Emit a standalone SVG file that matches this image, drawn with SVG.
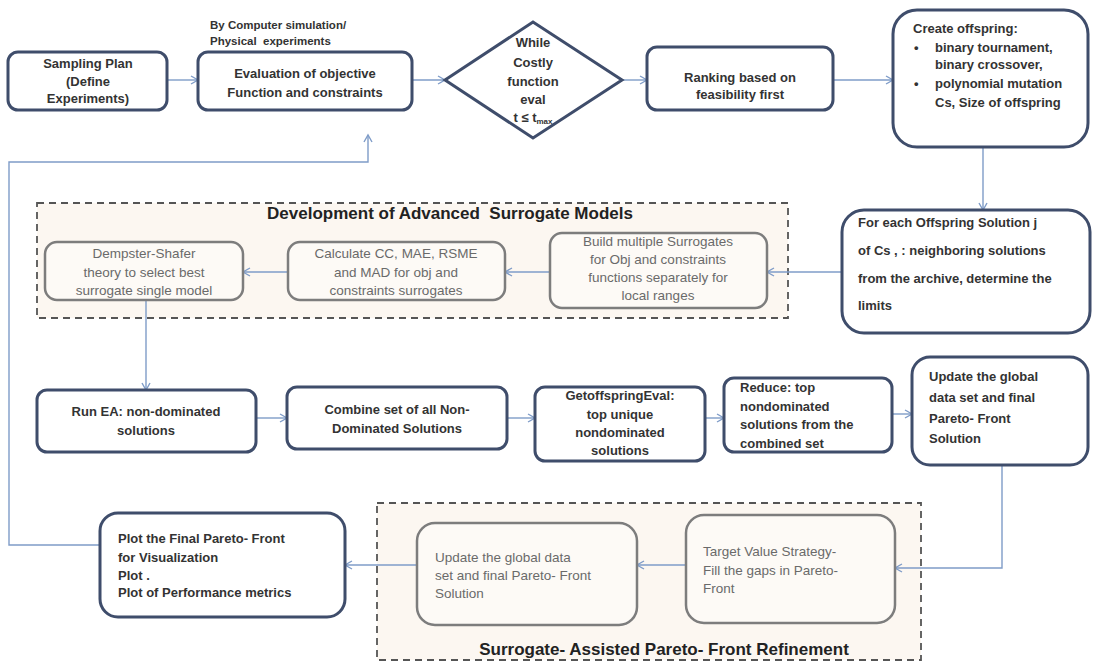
<svg xmlns="http://www.w3.org/2000/svg" width="1095" height="663" viewBox="0 0 1095 663">
<style>
.box{fill:#fff;stroke:#3f4d6b;stroke-width:3}
.gbox{fill:#fdfaf6;stroke:#7d7d7d;stroke-width:2.5}
.cont{fill:#fcf7f1;stroke:#555;stroke-width:1.8;stroke-dasharray:7,5}
.t{font-family:"Liberation Sans",Arial,sans-serif;font-size:13px;font-weight:bold;fill:#333}
.g{font-family:"Liberation Sans",Arial,sans-serif;font-size:13.5px;fill:#6a6a6a}
.h{font-family:"Liberation Sans",Arial,sans-serif;font-size:17px;font-weight:bold;fill:#222}
.s{font-family:"Liberation Sans",Arial,sans-serif;font-size:11.5px;font-weight:bold;fill:#333}
.c{text-anchor:middle}
.ln{fill:none;stroke:#7f9cc8;stroke-width:1.4}
</style>
<defs>
<marker id="ah" markerWidth="10" markerHeight="10" refX="8" refY="5" orient="auto" markerUnits="userSpaceOnUse">
<path d="M1,1 L8,5 L1,9" fill="none" stroke="#7f9cc8" stroke-width="1.4"/>
</marker>
</defs>

<g id="container-dev">
<rect class="cont" x="37" y="203" width="751" height="115"/>
<text class="h c" x="450" y="219">Development of Advanced&#160; Surrogate Models</text>
</g>
<g id="container-refine">
<rect class="cont" x="377" y="503" width="544" height="157"/>
<text class="h c" x="664" y="655">Surrogate- Assisted Pareto- Front Refinement</text>
</g>

<g id="connectors">
<line class="ln" x1="167" y1="80" x2="198" y2="80" marker-end="url(#ah)"/>
<line class="ln" x1="412" y1="80" x2="445" y2="80" marker-end="url(#ah)"/>
<line class="ln" x1="622" y1="80" x2="647" y2="80" marker-end="url(#ah)"/>
<line class="ln" x1="833" y1="80" x2="893" y2="80" marker-end="url(#ah)"/>
<line class="ln" x1="983" y1="147" x2="983" y2="210" marker-end="url(#ah)"/>
<line class="ln" x1="842" y1="272" x2="767" y2="272" marker-end="url(#ah)"/>
<line class="ln" x1="550" y1="272" x2="505" y2="272" marker-end="url(#ah)"/>
<line class="ln" x1="288" y1="272" x2="243" y2="272" marker-end="url(#ah)"/>
<line class="ln" x1="146" y1="300" x2="146" y2="390" marker-end="url(#ah)"/>
<line class="ln" x1="256" y1="418" x2="287" y2="418" marker-end="url(#ah)"/>
<line class="ln" x1="507" y1="418" x2="535" y2="418" marker-end="url(#ah)"/>
<line class="ln" x1="705" y1="418" x2="724" y2="418" marker-end="url(#ah)"/>
<line class="ln" x1="892" y1="414" x2="912" y2="414" marker-end="url(#ah)"/>
<polyline class="ln" points="1002,465 1002,568 895,568" marker-end="url(#ah)"/>
<line class="ln" x1="686" y1="565" x2="637" y2="565" marker-end="url(#ah)"/>
<line class="ln" x1="417" y1="565" x2="345" y2="565" marker-end="url(#ah)"/>
<polyline class="ln" points="100,545 9,545 9,162 368,162 368,135" marker-end="url(#ah)"/>
</g>

<g id="sampling">
<rect class="box" x="8" y="52" width="159" height="58" rx="10"/>
<text class="t c" x="88" y="68">Sampling Plan</text>
<text class="t c" x="88" y="86">(Define</text>
<text class="t c" x="88" y="103">Experiments)</text>
</g>
<g id="evaluation">
<text class="s" x="210" y="29">By Computer simulation/</text>
<text class="s" x="210" y="45">Physical&#160; experiments</text>
<rect class="box" x="198" y="52" width="214" height="58" rx="10"/>
<text class="t c" x="305" y="78">Evaluation of objective</text>
<text class="t c" x="305" y="97">Function and constraints</text>
</g>
<g id="while">
<polygon class="box" points="445,80 533,22 622,80 533,138"/>
<text class="t c" x="533" y="47">While</text>
<text class="t c" x="533" y="67">Costly</text>
<text class="t c" x="533" y="86">function</text>
<text class="t c" x="533" y="104">eval</text>
<text class="t c" x="533" y="122">t ≤ t<tspan font-size="8" dy="2">max</tspan></text>
</g>
<g id="ranking">
<rect class="box" x="647" y="47" width="186" height="63" rx="10"/>
<text class="t c" x="740" y="82">Ranking based on</text>
<text class="t c" x="740" y="99">feasibility first</text>
</g>
<g id="create">
<rect class="box" x="893" y="10" width="195" height="137" rx="24"/>
<text class="t" x="913" y="33">Create offspring:</text>
<text class="t" x="914" y="52">•</text>
<text class="t" x="935" y="52">binary tournament,</text>
<text class="t" x="935" y="69">binary crossover,</text>
<text class="t" x="914" y="88">•</text>
<text class="t" x="935" y="88">polynomial mutation</text>
<text class="t" x="935" y="107">Cs, Size of offspring</text>
</g>
<g id="foreach">
<rect class="box" x="842" y="210" width="248" height="123" rx="22"/>
<text class="t" x="858" y="227">For each Offspring Solution j</text>
<text class="t" x="858" y="255">of Cs , : neighboring solutions</text>
<text class="t" x="858" y="283">from the archive, determine the</text>
<text class="t" x="858" y="310">limits</text>
</g>
<g id="build">
<rect class="gbox" x="550" y="233" width="217" height="75" rx="12"/>
<text class="g c" x="658" y="246">Build multiple Surrogates</text>
<text class="g c" x="658" y="264">for Obj and constraints</text>
<text class="g c" x="658" y="282">functions separately for</text>
<text class="g c" x="658" y="300">local ranges</text>
</g>
<g id="calculate">
<rect class="gbox" x="288" y="242" width="217" height="58" rx="12"/>
<text class="g c" x="396" y="258">Calculate CC, MAE, RSME</text>
<text class="g c" x="396" y="277">and MAD for obj and</text>
<text class="g c" x="396" y="295">constraints surrogates</text>
</g>
<g id="dempster">
<rect class="gbox" x="45" y="242" width="198" height="58" rx="12"/>
<text class="g c" x="144" y="258">Dempster-Shafer</text>
<text class="g c" x="144" y="277">theory to select best</text>
<text class="g c" x="144" y="295">surrogate single model</text>
</g>
<g id="runea">
<rect class="box" x="37" y="390" width="219" height="62" rx="10"/>
<text class="t c" x="146" y="416">Run EA: non-dominated</text>
<text class="t c" x="146" y="435">solutions</text>
</g>
<g id="combine">
<rect class="box" x="287" y="387" width="220" height="62" rx="10"/>
<text class="t c" x="397" y="414">Combine set of all Non-</text>
<text class="t c" x="397" y="433">Dominated Solutions</text>
</g>
<g id="getoffspring">
<rect class="box" x="535" y="387" width="170" height="74" rx="10"/>
<text class="t c" x="620" y="400">GetoffspringEval:</text>
<text class="t c" x="620" y="419">top unique</text>
<text class="t c" x="620" y="437">nondominated</text>
<text class="t c" x="620" y="455">solutions</text>
</g>
<g id="reduce">
<rect class="box" x="724" y="378" width="168" height="74" rx="10"/>
<text class="t" x="740" y="392">Reduce: top</text>
<text class="t" x="740" y="411">nondominated</text>
<text class="t" x="740" y="429">solutions from the</text>
<text class="t" x="740" y="448">combined set</text>
</g>
<g id="update">
<rect class="box" x="912" y="357" width="176" height="108" rx="18"/>
<text class="t" x="929" y="381">Update the global</text>
<text class="t" x="929" y="402">data set and final</text>
<text class="t" x="929" y="423">Pareto- Front</text>
<text class="t" x="929" y="443">Solution</text>
</g>
<g id="target">
<rect class="gbox" x="686" y="515" width="209" height="108" rx="18"/>
<text class="g" x="703" y="556">Target Value Strategy-</text>
<text class="g" x="703" y="575">Fill the gaps in Pareto-</text>
<text class="g" x="703" y="593">Front</text>
</g>
<g id="update-refine">
<rect class="gbox" x="417" y="523" width="220" height="102" rx="18"/>
<text class="g" x="435" y="562">Update the global data</text>
<text class="g" x="435" y="580">set and final Pareto- Front</text>
<text class="g" x="435" y="598">Solution</text>
</g>
<g id="plot">
<rect class="box" x="100" y="513" width="245" height="104" rx="18"/>
<text class="t" x="118" y="543">Plot the Final Pareto- Front</text>
<text class="t" x="118" y="562">for Visualization</text>
<text class="t" x="118" y="580">Plot .</text>
<text class="t" x="118" y="597">Plot of Performance metrics</text>
</g>
</svg>
